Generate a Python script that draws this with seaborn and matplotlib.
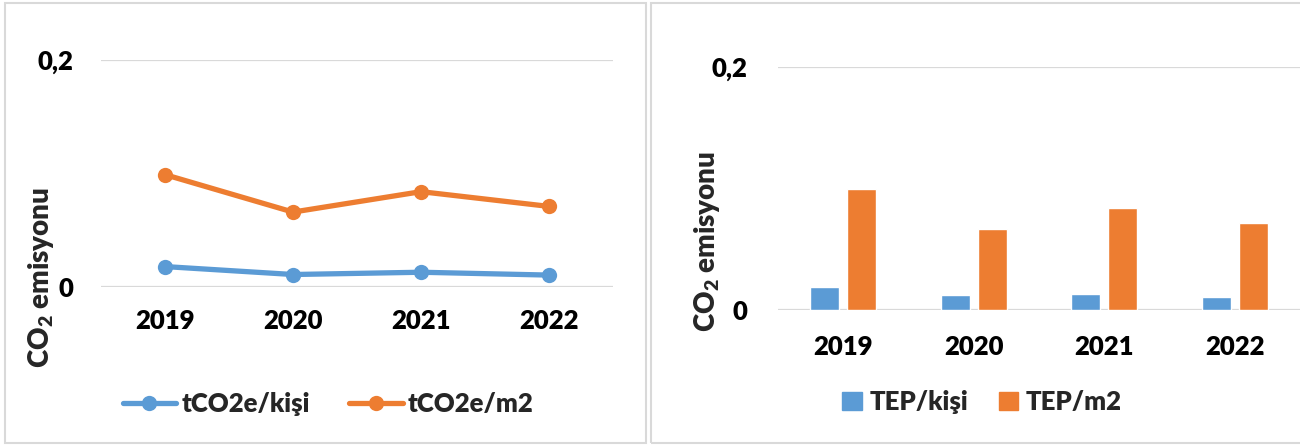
import matplotlib
matplotlib.use("Agg")
import matplotlib.pyplot as plt
import seaborn as sns
import pandas as pd
from matplotlib.patches import Rectangle
from matplotlib.lines import Line2D

years = ["2019", "2020", "2021", "2022"]
co2_per_person = [0.018, 0.011, 0.013, 0.0105]
co2_per_m2 = [0.099, 0.066, 0.084, 0.071]
tep_per_person = [0.019, 0.0123, 0.0132, 0.0107]
tep_per_m2 = [0.0995, 0.0667, 0.084, 0.0716]
line_series = ["tCO2e/kişi", "tCO2e/m2"]
bar_series = ["TEP/kişi", "TEP/m2"]
y_ticks = [0, 0.2]
y_tick_labels = ["0", "0,2"]
y_label = "CO$_2$ emisyonu"

BLUE = "#5B9BD5"
ORANGE = "#ED7D31"
GRID = "#D9D9D9"
W = "heavy"

sns.set_theme(style="white")
plt.rcParams["font.family"] = ["Lato", "DejaVu Sans"]
plt.rcParams["font.weight"] = W
plt.rcParams["mathtext.fontset"] = "custom"
plt.rcParams["mathtext.rm"] = "Lato:heavy"
plt.rcParams["mathtext.bf"] = "Lato:heavy"
plt.rcParams["mathtext.default"] = "bf"

df_line = pd.DataFrame({
    "year": years * 2,
    "value": co2_per_person + co2_per_m2,
    "series": [line_series[0]] * 4 + [line_series[1]] * 4,
})
df_bar = pd.DataFrame({
    "year": years * 2,
    "value": tep_per_person + tep_per_m2,
    "series": [bar_series[0]] * 4 + [bar_series[1]] * 4,
})

fig = plt.figure(figsize=(13, 4.46), dpi=100)

# panel frames
fig.patches.append(Rectangle((5 / 1300, 3 / 446), 641 / 1300, 440 / 446,
                             transform=fig.transFigure, fill=False,
                             edgecolor=GRID, linewidth=1.5, zorder=0))
fig.patches.append(Rectangle((651 / 1300, 3 / 446), 660 / 1300, 440 / 446,
                             transform=fig.transFigure, fill=False,
                             edgecolor=GRID, linewidth=1.5, zorder=0))

FS = 18.5

def style_axes(ax, pad_y, pad_x):
    ax.set_ylim(0, 0.2)
    ax.set_xlim(-0.5, 3.5)
    ax.set_yticks(y_ticks)
    ax.set_yticklabels(y_tick_labels)
    for s in ax.spines.values():
        s.set_visible(False)
    ax.yaxis.grid(True, color=GRID, linewidth=1.6)
    ax.xaxis.grid(False)
    ax.set_axisbelow(True)
    ax.tick_params(axis="both", length=0, labelsize=FS)
    ax.tick_params(axis="y", pad=pad_y)
    ax.tick_params(axis="x", pad=pad_x)
    for lbl in ax.get_xticklabels() + ax.get_yticklabels():
        lbl.set_fontweight(W)
        lbl.set_color("black")
    ax.set_xlabel("")
    ax.set_ylabel("")
    ax.patch.set_alpha(0)

# Left: line chart
ax1 = fig.add_axes([101 / 1300, 1 - 287 / 446, 512 / 1300, 227 / 446])
sns.lineplot(data=df_line, x="year", y="value", hue="series",
             palette=[BLUE, ORANGE], marker="o", markersize=11,
             markeredgewidth=0, linewidth=3.8, ax=ax1, legend=False)
style_axes(ax1, 20, 16)
fig.text(41 / 1300, 1 - 277 / 446, y_label, rotation=90, ha="center",
         va="center", fontsize=20, fontweight=W)
h1 = [Line2D([0], [0], color=c, marker="o", markersize=11, linewidth=3.8,
             markeredgewidth=0) for c in (BLUE, ORANGE)]
fig.legend(h1, line_series, loc="center", bbox_to_anchor=(328 / 1300, 1 - 404 / 446),
           ncol=2, frameon=False, prop={"size": FS, "weight": W},
           handlelength=2.1, columnspacing=1.5, handletextpad=0.2)

# Right: bar chart
ax2 = fig.add_axes([778 / 1300, 1 - 310 / 446, 522 / 1300, 243 / 446])
sns.barplot(data=df_bar, x="year", y="value", hue="series",
            palette=[BLUE, ORANGE], width=0.57, gap=0.22, saturation=1,
            ax=ax2, legend=False)
style_axes(ax2, 22, 18)
fig.text(707 / 1300, 1 - 241 / 446, y_label, rotation=90, ha="center",
         va="center", fontsize=20, fontweight=W)
h2 = [Rectangle((0, 0), 1, 1, color=c) for c in (BLUE, ORANGE)]
fig.legend(h2, bar_series, loc="center", bbox_to_anchor=(982 / 1300, 1 - 402 / 446),
           ncol=2, frameon=False, prop={"size": FS, "weight": W},
           handlelength=0.75, handleheight=0.75, columnspacing=1.2,
           handletextpad=0.3)

fig.savefig("out.png", dpi=100)
